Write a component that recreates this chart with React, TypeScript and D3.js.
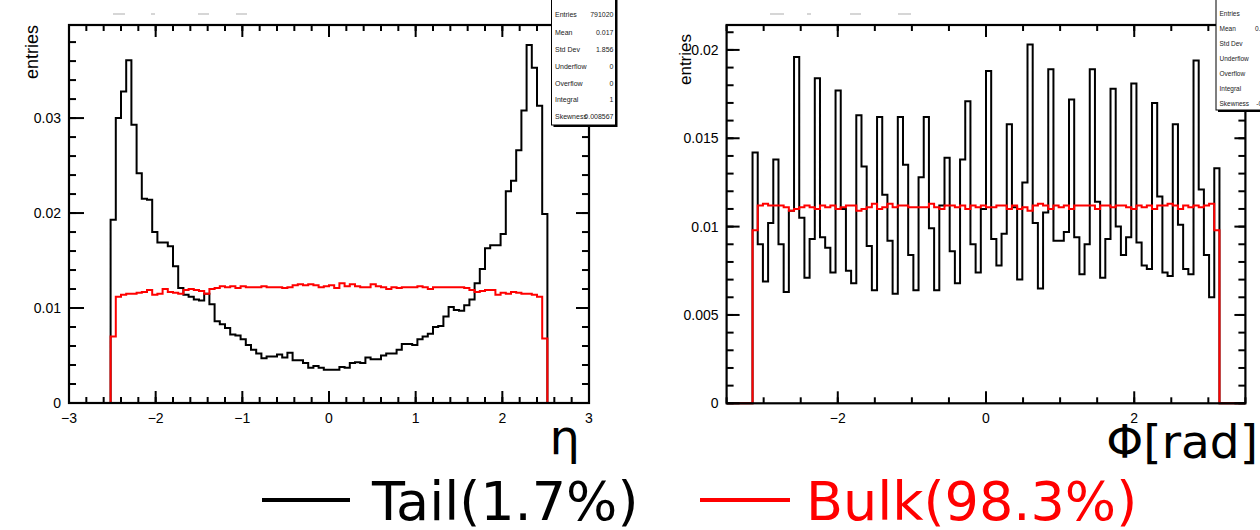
import React from "react";
import * as d3 from "d3";

// ---------- DATA ----------
// eta histogram: 100 bins on [-3,3] (width 0.06); non-empty bins start at -2.52
const etaBinStart = -2.52;
const etaBinWidth = 0.06;
const etaTail = [
  0.0193, 0.0300, 0.0328, 0.0361, 0.0293, 0.0242, 0.0215, 0.0214, 0.0180, 0.0169,
  0.0169, 0.0165, 0.0144, 0.0121, 0.0114, 0.0112, 0.0109, 0.0108, 0.0115, 0.0104,
  0.0086, 0.0083, 0.0079, 0.0072, 0.0071, 0.0067, 0.0061, 0.0056, 0.0052, 0.0047,
  0.0049, 0.0049, 0.0051, 0.0048, 0.0053, 0.0045, 0.0045, 0.0042, 0.0037, 0.0039,
  0.0037, 0.0035, 0.0035, 0.0035, 0.0038, 0.0037, 0.0042, 0.0043, 0.0042, 0.0048,
  0.0046, 0.0046, 0.0050, 0.0052, 0.0052, 0.0056, 0.0062, 0.0062, 0.0061, 0.0067,
  0.0070, 0.0073, 0.0080, 0.0081, 0.0091, 0.0101, 0.0098, 0.0097, 0.0103, 0.0109,
  0.0126, 0.0141, 0.0163, 0.0166, 0.0166, 0.0178, 0.0223, 0.0234, 0.0266, 0.0308,
  0.0377, 0.0353, 0.0313, 0.0199,
];
const etaBulk = [
  0.0070, 0.0112, 0.0114, 0.0115, 0.0115, 0.0116, 0.0117, 0.0119, 0.0114, 0.0115,
  0.0120, 0.0117, 0.0116, 0.0115, 0.0119, 0.0120, 0.0119, 0.0118, 0.0115, 0.0120,
  0.0121, 0.0123, 0.0122, 0.0123, 0.0121, 0.0123, 0.0122, 0.0122, 0.0122, 0.0123,
  0.0122, 0.0122, 0.0122, 0.0121, 0.0122, 0.0124, 0.0125, 0.0124, 0.0125, 0.0124,
  0.0122, 0.0123, 0.0124, 0.0121, 0.0126, 0.0123, 0.0125, 0.0123, 0.0122, 0.0122,
  0.0125, 0.0123, 0.0122, 0.0120, 0.0122, 0.0121, 0.0122, 0.0122, 0.0122, 0.0123,
  0.0122, 0.0120, 0.0122, 0.0122, 0.0122, 0.0122, 0.0122, 0.0122, 0.0121, 0.0119,
  0.0117, 0.0118, 0.0119, 0.0119, 0.0114, 0.0116, 0.0115, 0.0117, 0.0116, 0.0115,
  0.0115, 0.0114, 0.0112, 0.0068,
];

// phi histogram: 100 bins on [-3.5,3.5] (width 0.07); non-empty bins start at -3.15
const phiBinStart = -3.15;
const phiBinWidth = 0.07;
const phiTail = [
  0.0142, 0.0090, 0.0069, 0.0102, 0.0138, 0.0090, 0.0063, 0.0109, 0.0196, 0.0105,
  0.0071, 0.0093, 0.0184, 0.0094, 0.0088, 0.0074, 0.0177, 0.0110, 0.0075, 0.0068,
  0.0163, 0.0134, 0.0089, 0.0064, 0.0162, 0.0118, 0.0092, 0.0062, 0.0162, 0.0135,
  0.0084, 0.0064, 0.0128, 0.0162, 0.0099, 0.0064, 0.0112, 0.0139, 0.0086, 0.0068,
  0.0138, 0.0171, 0.0090, 0.0074, 0.0110, 0.0188, 0.0093, 0.0078, 0.0096, 0.0158,
  0.0111, 0.0070, 0.0125, 0.0203, 0.0102, 0.0065, 0.0108, 0.0189, 0.0092, 0.0092,
  0.0097, 0.0172, 0.0094, 0.0073, 0.0090, 0.0189, 0.0114, 0.0071, 0.0093, 0.0178,
  0.0100, 0.0084, 0.0094, 0.0181, 0.0091, 0.0078, 0.0076, 0.0170, 0.0117, 0.0074,
  0.0072, 0.0158, 0.0101, 0.0076, 0.0073, 0.0194, 0.0121, 0.0084, 0.0060, 0.0133,
];
const phiBulk = [
  0.0098, 0.0112, 0.0113, 0.0112, 0.0112, 0.0112, 0.0111, 0.0109, 0.0110, 0.0111,
  0.0112, 0.0111, 0.0110, 0.0112, 0.0111, 0.0112, 0.0110, 0.0111, 0.0112, 0.0112,
  0.0109, 0.0110, 0.0111, 0.0113, 0.0110, 0.0111, 0.0113, 0.0111, 0.0112, 0.0112,
  0.0111, 0.0111, 0.0111, 0.0111, 0.0113, 0.0111, 0.0110, 0.0112, 0.0112, 0.0111,
  0.0112, 0.0110, 0.0112, 0.0111, 0.0112, 0.0111, 0.0111, 0.0112, 0.0112, 0.0110,
  0.0112, 0.0110, 0.0111, 0.0109, 0.0112, 0.0113, 0.0112, 0.0110, 0.0112, 0.0111,
  0.0112, 0.0110, 0.0112, 0.0112, 0.0112, 0.0112, 0.0110, 0.0112, 0.0112, 0.0111,
  0.0112, 0.0112, 0.0111, 0.0110, 0.0112, 0.0111, 0.0112, 0.0110, 0.0112, 0.0112,
  0.0113, 0.0112, 0.0110, 0.0112, 0.0111, 0.0112, 0.0111, 0.0112, 0.0113, 0.0098,
];

const etaXTicks = [-3, -2, -1, 0, 1, 2, 3];
const etaYTicks = [0, 0.01, 0.02, 0.03];
const phiXTicks = [-2, 0, 2];
const phiYTicks = [0, 0.005, 0.01, 0.015, 0.02];

const etaStats = [
  ["Entries", "791020"],
  ["Mean", "0.017"],
  ["Std Dev", "1.856"],
  ["Underflow", "0"],
  ["Overflow", "0"],
  ["Integral", "1"],
  ["Skewness", "0.008567"],
];
const phiStats = [
  ["Entries", "791020"],
  ["Mean", "0.004717"],
  ["Std Dev", "1.8139"],
  ["Underflow", "0"],
  ["Overflow", "0"],
  ["Integral", "1"],
  ["Skewness", "-0.00201"],
];

const legendItems = [
  { label: "Tail(1.7%)", color: "#000000" },
  { label: "Bulk(98.3%)", color: "#ff0000" },
];

// ---------- helpers ----------
const fmt = (d: number) =>
  d === 0 ? "0" : String(+d.toFixed(4)).replace("-", "\u2212");

function histPath(
  values: number[],
  start: number,
  width: number,
  domain: number[],
  x: any,
  y: any
) {
  const pts: [number, number][] = [[domain[0], 0]];
  values.forEach((v, i) => pts.push([start + i * width, v]));
  pts.push([start + values.length * width, 0]);
  pts.push([domain[1], 0]);
  const line = d3
    .line<[number, number]>()
    .x((d) => x(d[0]))
    .y((d) => y(d[1]))
    .curve(d3.curveStepAfter);
  return line(pts) || "";
}

const FONT = "'Liberation Sans', Arial, Helvetica, sans-serif";
const BIGFONT = "'DejaVu Sans', Verdana, sans-serif";

type PanelProps = {
  x: any;
  y: any;
  xTicks: number[];
  xMinorStep: number;
  yTicks: number[];
  yMinorStep: number;
  tail: number[];
  bulk: number[];
  binStart: number;
  binWidth: number;
  yMajorLen: number;
  yMinorLen: number;
  ylabelX: number;
  ylabelY: number;
  ylabelSize: number;
  tickFont: number;
};

function Panel(p: PanelProps) {
  const [x0, x1] = p.x.range();
  const [yb, yt] = p.y.range();
  const xd = p.x.domain();
  const yd = p.y.domain();
  const xMinor = d3.range(xd[0], xd[1] + 1e-9, p.xMinorStep);
  const yMinor = d3.range(0, yd[1] + 1e-12, p.yMinorStep);
  const xMajLen = 12;
  const xMinLen = 6;
  return (
    <g>
      <path
        d={histPath(p.tail, p.binStart, p.binWidth, xd, p.x, p.y)}
        fill="none"
        stroke="#000"
        strokeWidth={2}
      />
      <path
        d={histPath(p.bulk, p.binStart, p.binWidth, xd, p.x, p.y)}
        fill="none"
        stroke="#ff0000"
        strokeWidth={2}
      />
      <rect
        x={x0}
        y={yt}
        width={x1 - x0}
        height={yb - yt}
        fill="none"
        stroke="#000"
        strokeWidth={2.2}
      />
      {xMinor.map((v, i) => (
        <g key={"xm" + i}>
          <line x1={p.x(v)} x2={p.x(v)} y1={yb} y2={yb - xMinLen} stroke="#000" strokeWidth={2} />
          <line x1={p.x(v)} x2={p.x(v)} y1={yt} y2={yt + xMinLen} stroke="#000" strokeWidth={2} />
        </g>
      ))}
      {p.xTicks.map((v, i) => (
        <g key={"xM" + i}>
          <line x1={p.x(v)} x2={p.x(v)} y1={yb} y2={yb - xMajLen} stroke="#000" strokeWidth={2} />
          <line x1={p.x(v)} x2={p.x(v)} y1={yt} y2={yt + xMajLen} stroke="#000" strokeWidth={2} />
          <text
            x={p.x(v)}
            y={yb + 20}
            textAnchor="middle"
            fontFamily={FONT}
            fontSize={p.tickFont}
            fill="#000"
          >
            {fmt(v)}
          </text>
        </g>
      ))}
      {yMinor.map((v, i) => (
        <g key={"ym" + i}>
          <line x1={x0} x2={x0 + p.yMinorLen} y1={p.y(v)} y2={p.y(v)} stroke="#000" strokeWidth={2} />
          <line x1={x1} x2={x1 - p.yMinorLen} y1={p.y(v)} y2={p.y(v)} stroke="#000" strokeWidth={2} />
        </g>
      ))}
      {p.yTicks.map((v, i) => (
        <g key={"yM" + i}>
          <line x1={x0} x2={x0 + p.yMajorLen} y1={p.y(v)} y2={p.y(v)} stroke="#000" strokeWidth={2} />
          <line x1={x1} x2={x1 - p.yMajorLen + 2} y1={p.y(v)} y2={p.y(v)} stroke="#000" strokeWidth={2} />
          <text
            x={x0 - 8}
            y={p.y(v) + 5}
            textAnchor="end"
            fontFamily={FONT}
            fontSize={p.tickFont}
            fill="#000"
          >
            {fmt(v)}
          </text>
        </g>
      ))}
      <text
        transform={`translate(${p.ylabelX},${p.ylabelY}) rotate(-90)`}
        textAnchor="end"
        fontFamily={FONT}
        fontSize={p.ylabelSize}
        fill="#000"
      >
        entries
      </text>
    </g>
  );
}

function StatsBox(props: {
  x: number;
  y: number;
  w: number;
  h: number;
  rows: string[][];
  rowY: number[];
  fontSize: number;
  valueX: number;
}) {
  const { x, y, w, h, rows, rowY, fontSize, valueX } = props;
  return (
    <g>
      <rect x={x + 2} y={y + 2} width={w} height={h} fill="#000" />
      <rect x={x} y={y} width={w} height={h} fill="#fff" stroke="#000" strokeWidth={1} />
      {rows.map((r, i) => (
        <g key={i}>
          <text x={x + 3.5} y={rowY[i]} fontFamily={FONT} fontSize={fontSize} fill="#222">
            {r[0]}
          </text>
          <text
            x={valueX}
            y={rowY[i]}
            textAnchor="end"
            fontFamily={FONT}
            fontSize={fontSize}
            fill="#222"
          >
            {r[1]}
          </text>
        </g>
      ))}
    </g>
  );
}

export default function App() {
  const xL = d3.scaleLinear().domain([-3, 3]).range([69, 589]);
  const yL = d3.scaleLinear().domain([0, 0.0398]).range([403, 25]);
  const xR = d3.scaleLinear().domain([-3.5, 3.5]).range([726.6, 1245.4]);
  const yR = d3.scaleLinear().domain([0, 0.02141]).range([403.3, 25]);

  const leftDashes = [
    [113, 125],
    [151, 155],
    [198, 209],
    [236, 247],
  ];
  const rightDashes = [
    [770, 784],
    [807, 811],
    [850, 861],
    [898, 911],
  ];

  return (
    <svg
      width={1260}
      height={530}
      style={{ position: "absolute", left: 0, top: 0, background: "#fff" }}
    >
      <rect x={0} y={0} width={1260} height={530} fill="#fff" />
      {leftDashes.concat(rightDashes).map((d, i) => (
        <line key={i} x1={d[0]} x2={d[1]} y1={14} y2={14} stroke="#c8c8c8" strokeWidth={1.5} />
      ))}
      <Panel
        x={xL}
        y={yL}
        xTicks={etaXTicks}
        xMinorStep={0.2}
        yTicks={etaYTicks}
        yMinorStep={0.002}
        tail={etaTail}
        bulk={etaBulk}
        binStart={etaBinStart}
        binWidth={etaBinWidth}
        yMajorLen={15}
        yMinorLen={7}
        ylabelX={38}
        ylabelY={25}
        ylabelSize={18}
        tickFont={14}
      />
      <Panel
        x={xR}
        y={yR}
        xTicks={phiXTicks}
        xMinorStep={0.5}
        yTicks={phiYTicks}
        yMinorStep={0.001}
        tail={phiTail}
        bulk={phiBulk}
        binStart={phiBinStart}
        binWidth={phiBinWidth}
        yMajorLen={13}
        yMinorLen={7}
        ylabelX={691}
        ylabelY={34}
        ylabelSize={17}
        tickFont={14}
      />
      <StatsBox
        x={551.5}
        y={-20}
        w={64}
        h={145}
        rows={etaStats}
        rowY={[17, 35, 52, 69, 86, 102, 119]}
        fontSize={7}
        valueX={613.5}
      />
      <StatsBox
        x={1216}
        y={-20}
        w={70}
        h={130}
        rows={phiStats}
        rowY={[16, 31, 46, 61, 76, 91, 106]}
        fontSize={6.5}
        valueX={1282}
      />
      <text x={580} y={454} textAnchor="end" fontFamily={BIGFONT} fontSize={48} fill="#000">
        η
      </text>
      <text x={1258} y={458} textAnchor="end" fontFamily={BIGFONT} fontSize={47} fill="#000">
        Φ[rad]
      </text>
      <line x1={262} x2={350} y1={500} y2={500} stroke={legendItems[0].color} strokeWidth={4} />
      <text x={372} y={520} fontFamily={BIGFONT} fontSize={54} fill={legendItems[0].color}>
        {legendItems[0].label}
      </text>
      <line x1={700} x2={790} y1={500} y2={500} stroke={legendItems[1].color} strokeWidth={4} />
      <text x={806} y={520} fontFamily={BIGFONT} fontSize={54} fill={legendItems[1].color}>
        {legendItems[1].label}
      </text>
    </svg>
  );
}
